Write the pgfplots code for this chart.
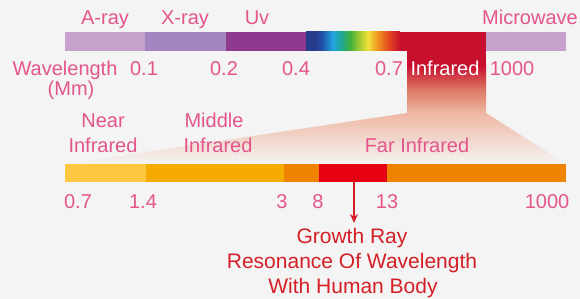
\documentclass[border=0pt]{standalone}
\usepackage{pgfplots}
\pgfplotsset{compat=1.18}
\usetikzlibrary{arrows.meta}
\usepackage{fontspec}
\setmainfont{Liberation Sans}
\definecolor{bg}{HTML}{F4F4F4}
\definecolor{pk}{HTML}{E4558C}
\definecolor{rt}{HTML}{D41F26}
\definecolor{aray}{HTML}{C6A1CC}
\definecolor{xray}{HTML}{A386BF}
\definecolor{uv}{HTML}{8E3A8F}
\definecolor{ir}{HTML}{C8102E}
\definecolor{near}{HTML}{FDC73F}
\definecolor{mid}{HTML}{F6AB00}
\definecolor{far}{HTML}{EF8300}
\definecolor{hot}{HTML}{E60012}
\definecolor{fmid}{HTML}{DC7864}
\definecolor{fbot}{HTML}{EEB8A4}
\definecolor{wmid}{HTML}{F1D4C8}
\definecolor{sp1}{HTML}{283C8E}
\definecolor{sp2}{HTML}{1E50A8}
\definecolor{sp3}{HTML}{22A6DE}
\definecolor{sp4}{HTML}{1FA88E}
\definecolor{sp5}{HTML}{40B040}
\definecolor{sp6}{HTML}{A8CC30}
\definecolor{sp7}{HTML}{F2E23E}
\definecolor{sp8}{HTML}{F09020}
\definecolor{sp9}{HTML}{E04020}
\pgfdeclarehorizontalshading{spectrum}{100bp}{color(0bp)=(sp1); color(25bp)=(sp1); color(29.8bp)=(sp1); color(33.5bp)=(sp2); color(39.4bp)=(sp3); color(44bp)=(sp4); color(48.4bp)=(sp5); color(53.7bp)=(sp6); color(58bp)=(sp7); color(63.3bp)=(sp8); color(69.7bp)=(sp9); color(75bp)=(ir); color(100bp)=(ir)}
\pgfdeclareverticalshading{wedge}{100bp}{color(0bp)=(bg); color(25bp)=(bg); color(52bp)=(wmid); color(75bp)=(fbot); color(100bp)=(fbot)}
\begin{document}
\begin{tikzpicture}
\begin{axis}[width=580pt,height=299pt,scale only axis,
  xmin=0,xmax=580,ymin=0,ymax=299,y dir=reverse,hide axis,clip=false]
\fill[bg] (rel axis cs:0,0) rectangle (rel axis cs:1,1);
% funnel
\addplot[draw=none, fill=ir] coordinates {(407,51)(486,51)(486,66)(407,66)} -- cycle;
\addplot[draw=none, top color=ir, bottom color=fmid] coordinates {(407,65.5)(486,65.5)(486,90)(407,90)} -- cycle;
\addplot[draw=none, top color=fmid, bottom color=fbot] coordinates {(407,89.5)(486,89.5)(486,113)(407,113)} -- cycle;
\addplot[draw=none, shading=wedge] coordinates {(407,113)(486,113)(566,164)(65,164)} -- cycle;
% top bar
\addplot[draw=none, fill=aray] coordinates {(65,32)(145,32)(145,51)(65,51)} -- cycle;
\addplot[draw=none, fill=xray] coordinates {(145,32)(226,32)(226,51)(145,51)} -- cycle;
\addplot[draw=none, fill=uv] coordinates {(226,32)(306,32)(306,51)(226,51)} -- cycle;
\addplot[draw=none, shading=spectrum] coordinates {(306,32)(400,32)(400,51)(306,51)} -- cycle;
\addplot[draw=none, fill=ir] coordinates {(400,32)(486,32)(486,51)(400,51)} -- cycle;
\addplot[draw=none, fill=aray] coordinates {(486,32)(566,32)(566,51)(486,51)} -- cycle;
% bottom bar
\addplot[draw=none, fill=near] coordinates {(65,164)(146,164)(146,182)(65,182)} -- cycle;
\addplot[draw=none, fill=mid] coordinates {(146,164)(284,164)(284,182)(146,182)} -- cycle;
\addplot[draw=none, fill=far] coordinates {(284,164)(566,164)(566,182)(284,182)} -- cycle;
\addplot[draw=none, fill=hot] coordinates {(319,164)(387,164)(387,182)(319,182)} -- cycle;
% arrow
\draw[rt, line width=1.3pt, -{Stealth[length=9pt,width=8pt]}] (axis cs:354,182) -- (axis cs:354,223);
% texts
\begin{scope}[every node/.style={font=\fontsize{20}{23}\selectfont, text=pk, anchor=base, inner sep=0pt}]
\node at (axis cs:105,25) {A-ray};
\node at (axis cs:185,25) {X-ray};
\node at (axis cs:257,25) {Uv};
\node at (axis cs:530,25) {Microwave};
\node at (axis cs:65,76) {Wavelength};
\node at (axis cs:71,96) {(Mm)};
\node at (axis cs:144,76) {0.1};
\node at (axis cs:224,76) {0.2};
\node at (axis cs:296,76) {0.4};
\node at (axis cs:389,76) {0.7};
\node[text=white] at (axis cs:445,76) {Infrared};
\node at (axis cs:512,76) {1000};
\node at (axis cs:103,128) {Near};
\node at (axis cs:103,153) {Infrared};
\node at (axis cs:214,128) {Middle};
\node at (axis cs:218,153) {Infrared};
\node at (axis cs:417,153) {Far Infrared};
\node at (axis cs:78,208) {0.7};
\node at (axis cs:143,208) {1.4};
\node at (axis cs:282,208) {3};
\node at (axis cs:318,208) {8};
\node at (axis cs:387,208) {13};
\node at (axis cs:547,208) {1000};
\end{scope}
\begin{scope}[every node/.style={font=\fontsize{21}{24}\selectfont, text=rt, anchor=base, inner sep=0pt}]
\node at (axis cs:352,243) {Growth Ray};
\node at (axis cs:352,268) {Resonance Of Wavelength};
\node at (axis cs:353,293) {With Human Body};
\end{scope}
\end{axis}
\end{tikzpicture}
\end{document}
